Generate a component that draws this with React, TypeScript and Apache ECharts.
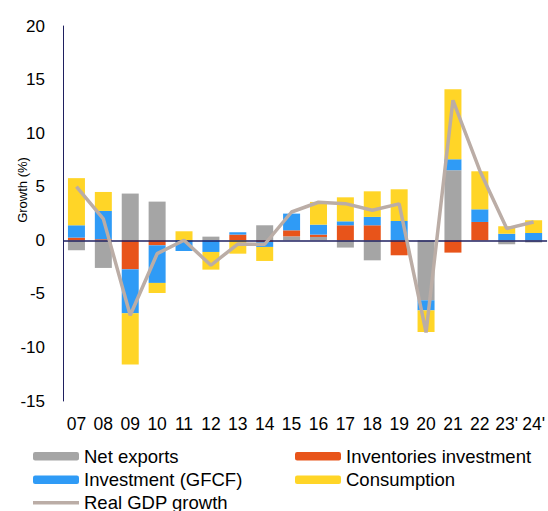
import React, { useEffect, useRef } from "react";
import * as echarts from "echarts";

const categories = ["07", "08", "09", "10", "11", "12", "13", "14", "15", "16", "17", "18", "19", "20", "21", "22", "23'", "24'"];
const netExports = [-0.93, -2.58, 4.36, 3.61, 0, 0.34, 0, 1.4, 0.37, 0.31, -0.68, -1.87, 0, -5.6, 6.54, 0, -0.37, -0.2];
const inventories = [0.25, 0.1, -2.71, -0.47, 0, 0, 0.53, -0.15, 0.56, 0.22, 1.4, 1.4, -1.4, 0, -1.15, 1.71, 0, 0];
const investment = [1.15, 2.64, -4.11, -3.51, -1.0, -1.09, 0.22, -0.47, 1.56, 0.93, 0.37, 0.78, 1.8, -0.94, 1.02, 1.18, 0.62, 0.68];
const consumption = [4.4, 1.77, -4.78, -0.94, 0.84, -1.65, -1.25, -1.31, 0, 2.12, 2.24, 2.39, 2.96, -2.02, 6.54, 3.55, 0.69, 1.19];
const gdpGrowth = [5.0, 2.0, -7.0, -1.25, 0.0, -2.33, -0.35, -0.37, 2.64, 3.55, 3.42, 2.8, 3.4, -8.6, 13.07, 6.5, 1.1, 1.7];
const yTicks = { min: -15, max: 20, interval: 5 };

const FONT = "'Liberation Sans', Arial, sans-serif";
const NAVY = "#1F2060";
const LINE_COLOR = "#BBADA6";
const LEGEND_FS = 18.5;

const legendItem = (name: string, left: number, centerY: number, itemHeight = 8.5, icon?: string) => ({
  orient: "horizontal",
  left,
  top: centerY - LEGEND_FS / 2,
  itemWidth: 46,
  itemHeight,
  itemGap: 0,
  padding: 0,
  textStyle: { fontSize: LEGEND_FS, color: "#000", fontFamily: FONT, padding: [0, 0, 0, 0] },
  data: [icon ? { name, icon, itemStyle: { color: LINE_COLOR } } : name],
});

export default function App() {
  const ref = useRef<HTMLDivElement>(null);
  useEffect(() => {
    if (!ref.current) return;
    const chart = echarts.init(ref.current, null, { renderer: "svg" });
    const barBase = (name: string, data: number[], color: string) => ({
      name,
      type: "bar",
      stack: "total",
      data,
      barWidth: 17,
      itemStyle: { color },
    });
    const option: any = {
      animation: false,
      textStyle: { fontFamily: FONT },
      grid: { left: 63, right: 0, top: 26, bottom: 110, containLabel: false },
      legend: [
        legendItem("Net exports", 33, 456),
        legendItem("Investment (GFCF)", 33, 479.5),
        legendItem("Real GDP growth", 33, 502.5, 3.5, "rect"),
        legendItem("Inventories investment", 295, 456),
        legendItem("Consumption", 295, 479.5),
      ],
      xAxis: {
        type: "category",
        data: categories,
        axisLine: { show: false },
        axisTick: { show: false },
        axisLabel: { fontSize: 17.5, color: "#000", margin: 14, fontFamily: FONT, interval: 0 },
      },
      yAxis: {
        type: "value",
        min: yTicks.min,
        max: yTicks.max,
        interval: yTicks.interval,
        axisLine: { show: true, lineStyle: { color: NAVY, width: 1 } },
        axisTick: { show: false },
        splitLine: { show: false },
        axisLabel: { fontSize: 17, color: "#000", margin: 18, fontFamily: FONT },
      },
      graphic: [
        {
          type: "text",
          x: 22,
          y: 190,
          rotation: Math.PI / 2,
          style: {
            text: "Growth (%)",
            fontSize: 13,
            fontFamily: FONT,
            fill: "#000",
            align: "center",
            verticalAlign: "middle",
          },
        },
      ],
      series: [
        {
          ...barBase("Net exports", netExports, "#A5A5A5"),
          markLine: {
            silent: true,
            symbol: ["none", "none"],
            label: { show: false },
            lineStyle: { color: NAVY, width: 1.5, type: "solid" },
            data: [{ yAxis: 0 }],
          },
        },
        barBase("Inventories investment", inventories, "#E8541A"),
        barBase("Investment (GFCF)", investment, "#2F9BF6"),
        barBase("Consumption", consumption, "#FFD527"),
        {
          name: "Real GDP growth",
          type: "line",
          data: gdpGrowth,
          symbol: "none",
          lineStyle: { color: LINE_COLOR, width: 3.5 },
          itemStyle: { color: LINE_COLOR },
          z: 10,
        },
      ],
    };
    chart.setOption(option);
    return () => chart.dispose();
  }, []);
  return <div ref={ref} style={{ position: "absolute", left: 0, top: 0, width: 548, height: 511 }} />;
}
